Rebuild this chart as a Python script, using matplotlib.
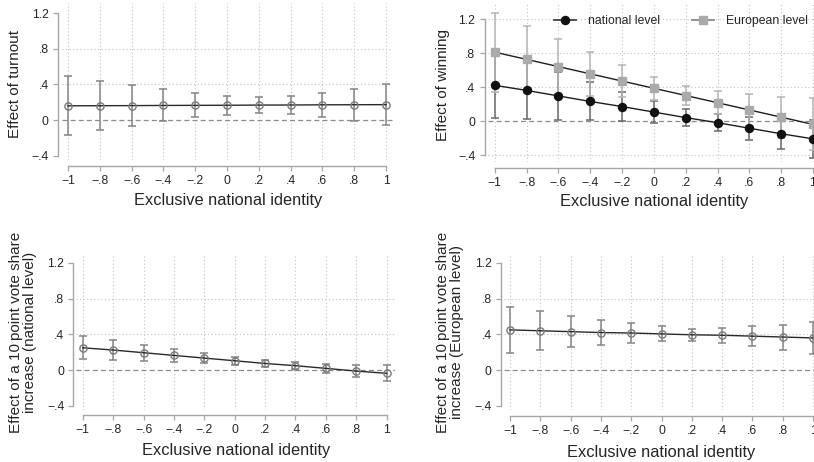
import matplotlib
matplotlib.use('Agg')
import matplotlib.pyplot as plt
from matplotlib.lines import Line2D
import numpy as np

plt.rcParams['font.family'] = ['Liberation Sans', 'DejaVu Sans']

W, H, DPI = 814, 462, 100

# ---------------- data ----------------
x_vals = [-1, -0.8, -0.6, -0.4, -0.2, 0, 0.2, 0.4, 0.6, 0.8, 1]
x_ticklabels = ['\u22121', '\u2212.8', '\u2212.6', '\u2212.4', '\u2212.2', '0', '.2', '.4', '.6', '.8', '1']
y_ticks = [-0.4, 0, 0.4, 0.8, 1.2]
y_ticklabels = ['\u2212.4', '0', '.4', '.8', '1.2']

turnout_est = [0.160, 0.161, 0.162, 0.164, 0.165, 0.166, 0.168, 0.169, 0.171, 0.172, 0.173]
turnout_lo = [-0.170, -0.110, -0.065, -0.012, 0.030, 0.058, 0.077, 0.065, 0.037, -0.007, -0.055]
turnout_hi = [0.490, 0.440, 0.390, 0.345, 0.305, 0.275, 0.262, 0.275, 0.307, 0.352, 0.400]

win_nat_est = [0.42, 0.36, 0.295, 0.23, 0.17, 0.105, 0.04, -0.02, -0.085, -0.15, -0.21]
win_nat_lo = [0.03, 0.024, 0.016, 0.008, 0.0, -0.024, -0.06, -0.12, -0.218, -0.33, -0.436]
win_nat_hi = [0.81, 0.695, 0.575, 0.455, 0.34, 0.235, 0.14, 0.08, 0.045, 0.03, 0.015]

win_eu_est = [0.81, 0.725, 0.64, 0.555, 0.47, 0.385, 0.30, 0.215, 0.13, 0.045, -0.04]
win_eu_lo = [0.345, 0.33, 0.314, 0.294, 0.28, 0.247, 0.192, 0.081, -0.053, -0.195, -0.345]
win_eu_hi = [1.275, 1.12, 0.966, 0.816, 0.66, 0.523, 0.408, 0.349, 0.313, 0.285, 0.265]

vs_nat_est = [0.25, 0.225, 0.195, 0.165, 0.135, 0.105, 0.075, 0.05, 0.02, -0.01, -0.035]
vs_nat_lo = [0.12, 0.115, 0.105, 0.09, 0.075, 0.06, 0.037, 0.008, -0.032, -0.08, -0.125]
vs_nat_hi = [0.38, 0.335, 0.285, 0.24, 0.195, 0.15, 0.112, 0.092, 0.072, 0.06, 0.055]

vs_eu_est = [0.45, 0.44, 0.43, 0.42, 0.415, 0.405, 0.395, 0.39, 0.38, 0.37, 0.36]
vs_eu_lo = [0.197, 0.23, 0.257, 0.283, 0.309, 0.327, 0.327, 0.305, 0.268, 0.23, 0.186]
vs_eu_hi = [0.706, 0.658, 0.61, 0.565, 0.524, 0.49, 0.465, 0.468, 0.498, 0.509, 0.539]

xlabel_text = 'Exclusive national identity'
legend_labels = ['national level', 'European level']

# ---------------- styling ----------------
AX_COL = '#a6a6a6'
GRID_COL = '#c4c4c4'
TXT_COL = '#262626'
TICK_FS = 8.8
XLAB_FS = 11.8
YLAB_FS = 11.0

fig = plt.figure(figsize=(W / DPI, H / DPI), dpi=DPI)


def make_ax(pxm1, px1, py12, pym04, xlim, ylim, spine_left_px, spine_bot_px):
    bx = (px1 - pxm1) / 2.0
    ax0 = pxm1 + bx
    dy = (py12 - pym04) / 1.6
    cy = py12 - 1.2 * dy
    left = ax0 + bx * xlim[0]
    right = ax0 + bx * xlim[1]
    top = cy + dy * ylim[1]
    bot = cy + dy * ylim[0]
    ax = fig.add_axes([left / W, 1 - bot / H, (right - left) / W, (bot - top) / H])
    ax.set_xlim(xlim)
    ax.set_ylim(ylim)
    ax.patch.set_alpha(0)
    for s in ['top', 'right']:
        ax.spines[s].set_visible(False)
    ax.spines['left'].set_bounds(-0.4, 1.2)
    ax.spines['bottom'].set_bounds(-1, 1)
    ax.spines['left'].set_position(('outward', (left - spine_left_px) * 72 / DPI))
    ax.spines['bottom'].set_position(('outward', (spine_bot_px - bot) * 72 / DPI))
    for s in ['left', 'bottom']:
        ax.spines[s].set_color(AX_COL)
        ax.spines[s].set_linewidth(1.0)
    ax.set_xticks(x_vals)
    ax.set_xticklabels(x_ticklabels)
    ax.set_yticks(y_ticks)
    ax.set_yticklabels(y_ticklabels)
    ax.tick_params(axis='both', direction='out', length=3.4, width=0.9, color=AX_COL,
                   labelsize=TICK_FS, labelcolor=TXT_COL, pad=3.2)
    return ax


def grid_and_zero(ax, hgrid):
    for yv in hgrid:
        ax.axhline(yv, color=GRID_COL, lw=0.8, ls=(0, (1, 2.2)), zorder=0)
    for xv in x_vals:
        ax.axvline(xv, color=GRID_COL, lw=0.8, ls=(0, (1, 2.2)), zorder=0)
    ax.axhline(0, color='#8c8c8c', lw=0.9, ls=(0, (4, 2.5)), zorder=1)


def labels(ax, ylab, ylab_xy, xlab_xy):
    ax.set_ylabel(ylab, fontsize=YLAB_FS, color=TXT_COL, va='center', ha='center', linespacing=0.95)
    ax.yaxis.set_label_coords(ylab_xy[0] / W, 1 - ylab_xy[1] / H, transform=fig.transFigure)
    ax.set_xlabel(xlabel_text, fontsize=XLAB_FS, color=TXT_COL, va='center')
    ax.xaxis.set_label_coords(xlab_xy[0] / W, 1 - xlab_xy[1] / H, transform=fig.transFigure)


def ci_series(ax, est, lo, hi, ecol, zo=2):
    est = np.asarray(est)
    err = [est - np.asarray(lo), np.asarray(hi) - est]
    ax.errorbar(x_vals, est, yerr=err, fmt='none', ecolor=ecol, elinewidth=1.1,
                capsize=2.6, capthick=1.1, zorder=zo)


def hollow_panel(ax, est, lo, hi):
    ci_series(ax, est, lo, hi, '#858585')
    ax.plot(x_vals, est, color='#2a2a2a', lw=1.0, zorder=3)
    ax.plot(x_vals, est, 'o', mfc='none', mec='#7a7a7a', ms=5.2, mew=1.0, zorder=4)


# Panel 1: turnout
ax1 = make_ax(68, 386, 13.3, 155.6, (-1.04, 1.045), (-0.45, 1.32), 58, 166)
grid_and_zero(ax1, [0.4, 0.8])
hollow_panel(ax1, turnout_est, turnout_lo, turnout_hi)
labels(ax1, 'Effect of turnout', (15, 84.5), (228, 201))

# Panel 2: winning
ax2 = make_ax(494.7, 813, 19, 155, (-1.045, 1.04), (-0.48, 1.388), 484.5, 167.5)
grid_and_zero(ax2, [-0.4, 0.4, 0.8, 1.2])
ci_series(ax2, win_nat_est, win_nat_lo, win_nat_hi, '#6a6a6a', zo=2)
ci_series(ax2, win_eu_est, win_eu_lo, win_eu_hi, '#b5b5b5', zo=2.1)
ax2.plot(x_vals, win_nat_est, color='#1e1e1e', lw=1.0, zorder=3)
ax2.plot(x_vals, win_eu_est, color='#1e1e1e', lw=1.0, zorder=3)
ax2.plot(x_vals, win_nat_est, 'o', color='#111111', ms=5.8, zorder=4)
ax2.plot(x_vals, win_eu_est, 's', color='#aaaaaa', ms=5.6, zorder=4)
labels(ax2, 'Effect of winning', (443, 85), (654, 201.5))
handles = [Line2D([], [], color='#444444', lw=1.3, marker='o', mfc='#111111', mec='#111111', ms=5.8),
           Line2D([], [], color='#888888', lw=1.3, marker='s', mfc='#aaaaaa', mec='#aaaaaa', ms=5.6)]
ax2.legend(handles, legend_labels, loc='center left', bbox_to_anchor=(554 / W, 1 - 21 / H),
           bbox_transform=fig.transFigure, ncol=2, frameon=False, fontsize=TICK_FS,
           handlelength=1.8, handletextpad=1.0, columnspacing=2.6, borderpad=0,
           borderaxespad=0, labelcolor=TXT_COL)

# Panel 3: vote share national
ax3 = make_ax(82.7, 386.7, 262.7, 406, (-1.041, 1.055), (-0.445, 1.275), 73.3, 415.3)
grid_and_zero(ax3, [0.4, 0.8])
hollow_panel(ax3, vs_nat_est, vs_nat_lo, vs_nat_hi)
labels(ax3, 'Effect of a 10\u2009point vote share\nincrease (national level)', (23, 332), (236, 451))

# Panel 4: vote share European
ax4 = make_ax(510, 813, 262.7, 406, (-1.04, 1.05), (-0.445, 1.275), 500.7, 416)
grid_and_zero(ax4, [0.4, 0.8])
hollow_panel(ax4, vs_eu_est, vs_eu_lo, vs_eu_hi)
labels(ax4, 'Effect of a 10\u2009point vote share\nincrease (European level)', (450, 332), (661.5, 452.5))

fig.savefig('out.png', dpi=DPI)
